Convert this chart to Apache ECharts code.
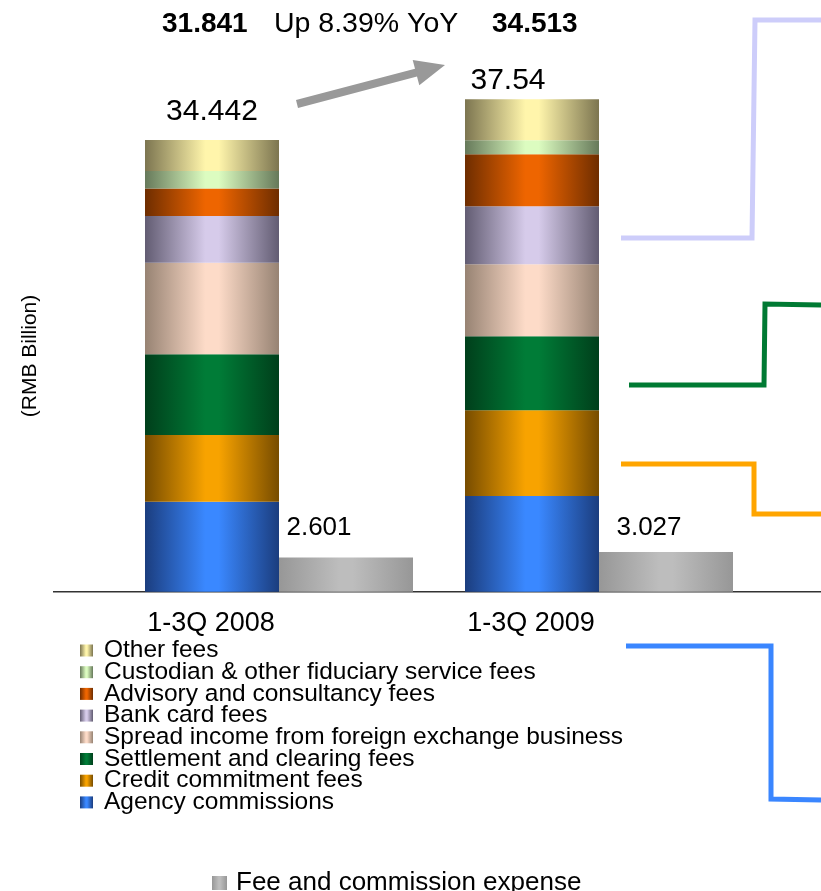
<!DOCTYPE html>
<html>
<head>
<meta charset="utf-8">
<script src="https://cdn.jsdelivr.net/npm/echarts@6/dist/echarts.min.js"></script>
<style>
html,body{margin:0;padding:0;background:#fff;}
#chart{width:821px;height:891px;}
</style>
</head>
<body>
<div id="chart"></div>
<script>
// ---- data ----
var categories = ['1-3Q 2008', '1-3Q 2009'];
var agency      = [6.86, 7.29];
var credit      = [5.08, 6.55];
var settlement  = [6.16, 5.64];
var spread      = [6.97, 5.49];
var bankCard    = [3.58, 4.42];
var advisory    = [2.08, 3.96];
var custodian   = [1.35, 1.07];
var otherFees   = [2.362, 3.12];
var totals      = [34.442, 37.54];
var expense     = [2.601, 3.027];

var seriesNames = ['Agency commissions', 'Credit commitment fees', 'Settlement and clearing fees',
  'Spread income from foreign exchange business', 'Bank card fees', 'Advisory and consultancy fees',
  'Custodian & other fiduciary service fees', 'Other fees'];
var seriesData = [agency, credit, settlement, spread, bankCard, advisory, custodian, otherFees];
var expenseName = 'Fee and commission expense';

// ---- styling ----
var FONT = '"Liberation Sans", Arial, sans-serif';
var palette = [
  ['#1b3d7e', '#3a88ff'],
  ['#774c00', '#f8a300'],
  ['#003f1b', '#007c37'],
  ['#978373', '#fddbc8'],
  ['#625c72', '#d6cbea'],
  ['#6e2d00', '#ee6500'],
  ['#66795a', '#dcfcc0'],
  ['#7c7550', '#fff5ab']
];
var expensePal = ['#979797', '#bdbdbd'];
function grad(p) {
  return new echarts.graphic.LinearGradient(0, 0, 1, 0, [
    {offset: 0, color: p[0]}, {offset: 0.45, color: p[1]},
    {offset: 0.55, color: p[1]}, {offset: 1, color: p[0]}
  ]);
}
var totalLabelStyle = [
  {distance: 13, offset: [0, 0]},
  {distance: 4, offset: [-24, 0]}
];
var expenseLabelStyle = [
  {distance: 17, offset: [-27, 0]},
  {distance: 11, offset: [-17, 0]}
];

var series = [];
seriesData.forEach(function (arr, i) {
  var isTop = i === seriesData.length - 1;
  series.push({
    name: seriesNames[i],
    type: 'bar',
    stack: 'fees',
    barGap: '0%',
    barCategoryGap: '16.25%',
    itemStyle: {color: grad(palette[i])},
    emphasis: {disabled: true},
    data: arr.map(function (v, j) {
      var d = {value: v};
      if (isTop) {
        d.label = {
          show: true, position: 'top',
          distance: totalLabelStyle[j].distance,
          offset: totalLabelStyle[j].offset,
          formatter: String(totals[j]),
          fontSize: 30, fontFamily: FONT, color: '#000'
        };
      }
      return d;
    })
  });
});
series.push({
  name: expenseName,
  type: 'bar',
  barGap: '0%',
  barCategoryGap: '16.25%',
  itemStyle: {color: grad(expensePal)},
  emphasis: {disabled: true},
  data: expense.map(function (v, j) {
    return {
      value: v,
      label: {
        show: true, position: 'top',
        distance: expenseLabelStyle[j].distance,
        offset: expenseLabelStyle[j].offset,
        formatter: String(v),
        fontSize: 26, fontFamily: FONT, color: '#000'
      }
    };
  })
});

var net0 = totals[0] - expense[0];
var net1 = totals[1] - expense[1];
var yoy = (net1 / net0 - 1) * 100;

function stepLine(points, color) {
  return {
    type: 'polyline',
    shape: {points: points},
    style: {stroke: color, lineWidth: 5, fill: null, lineJoin: 'miter'},
    silent: true
  };
}

var chart = echarts.init(document.getElementById('chart'), null, {renderer: 'canvas'});
chart.setOption({
  animation: false,
  backgroundColor: '#fff',
  grid: {left: 119, right: 62, top: 67, bottom: 299.3},
  xAxis: {
    type: 'category',
    data: categories,
    axisLine: {show: false},
    axisTick: {show: false},
    axisLabel: {
      margin: 18, fontSize: 27, fontFamily: FONT, color: '#000',
      padding: [0, 136, 0, 0], align: 'center'
    }
  },
  yAxis: {
    type: 'value', min: 0, max: 40,
    axisLine: {show: false}, axisTick: {show: false},
    axisLabel: {show: false}, splitLine: {show: false}
  },
  legend: [{
    orient: 'vertical',
    left: 75, top: 633,
    itemWidth: 13, itemHeight: 12, itemGap: -3.3,
    icon: 'rect',
    selectedMode: false,
    data: seriesNames.slice().reverse(),
    textStyle: {fontSize: 24.5, fontFamily: FONT, color: '#000', padding: [0, 0, 0, 6]}
  }, {
    orient: 'horizontal',
    left: 207, top: 865,
    itemWidth: 15, itemHeight: 14,
    icon: 'rect',
    selectedMode: false,
    data: [expenseName],
    textStyle: {fontSize: 26, fontFamily: FONT, color: '#000', lineHeight: 26, padding: [0, 0, 0, 4]}
  }],
  graphic: [
    {type: 'line', shape: {x1: 53, y1: 591.7, x2: 821, y2: 591.7},
     style: {stroke: '#333', lineWidth: 1.5}, silent: true},
    {type: 'text', left: 162, top: 10,
     style: {text: net0.toFixed(3), font: 'bold 28px ' + FONT, fill: '#000'}},
    {type: 'text', left: 274, top: 10,
     style: {text: 'Up ' + yoy.toFixed(2) + '% YoY', font: '28.5px ' + FONT, fill: '#000'}},
    {type: 'text', left: 492, top: 10,
     style: {text: net1.toFixed(3), font: 'bold 28px ' + FONT, fill: '#000'}},
    {type: 'text', x: 30, y: 356, rotation: Math.PI / 2,
     style: {text: '(RMB Billion)', font: '21px ' + FONT, fill: '#000', align: 'center', verticalAlign: 'middle'}},
    {type: 'polygon', silent: true,
     shape: {points: [[296, 100.1], [415, 68.7], [412.7, 60.0], [445, 65], [419.3, 85.2], [417, 76.5], [298, 107.9]]},
     style: {fill: '#999999'}},
    stepLine([[621, 238], [752, 238], [755, 20], [821, 20]], '#cdcdfa'),
    stepLine([[629, 385], [764, 385], [765, 304], [821, 305]], '#007a33'),
    stepLine([[621, 464], [754, 464], [754, 514], [821, 514]], '#ffa500'),
    stepLine([[626, 646], [771, 646], [771, 799], [821, 800]], '#3a86ff')
  ],
  series: series
});
</script>
</body>
</html>
